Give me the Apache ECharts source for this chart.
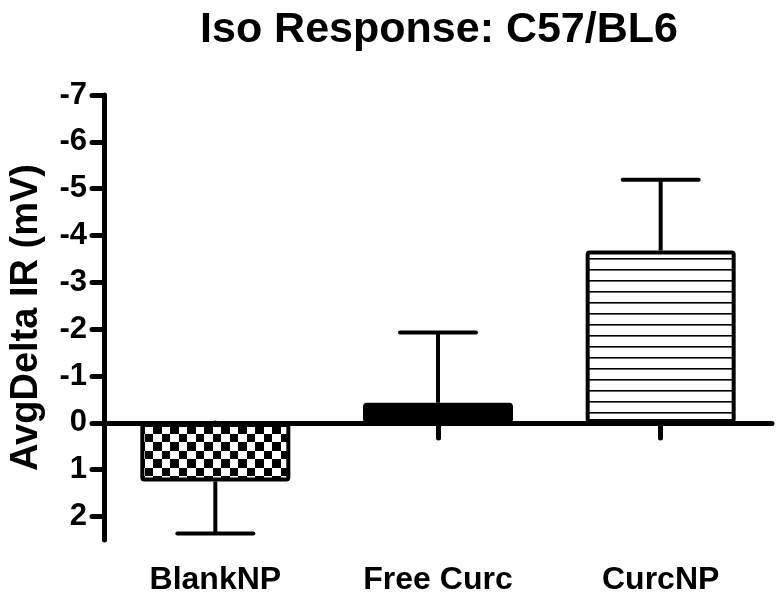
<!DOCTYPE html>
<html>
<head>
<meta charset="utf-8">
<script src="https://cdn.jsdelivr.net/npm/echarts@6/dist/echarts.min.js"></script>
<style>
  html, body { margin: 0; padding: 0; background: #fff; }
  #chart { width: 780px; height: 605px; }
</style>
</head>
<body>
<div id="chart"></div>
<script>
// groups, mean response and SEM (mV); y axis is drawn inverted
var groups = ['BlankNP', 'Free Curc', 'CurcNP'];
var meanIR = [1.25, -0.43, -3.68];
var semIR = [1.11, 1.5, 1.51];
var yTicks = [-7, -6, -5, -4, -3, -2, -1, 0, 1, 2];

var FONT = 'Liberation Sans';

function checkPattern()
{
    var c = document.createElement('canvas');
    c.width = 17; c.height = 17;
    var ctx = c.getContext('2d');
    ctx.fillStyle = '#fff';
    ctx.fillRect(0, 0, 17, 17);
    ctx.fillStyle = '#000';
    ctx.fillRect(0, 0, 9, 9);
    ctx.fillRect(9, 9, 8, 8);
    return {image: c, repeat: 'repeat'};
}

function stripePattern()
{
    var c = document.createElement('canvas');
    c.width = 11; c.height = 11;
    var ctx = c.getContext('2d');
    ctx.fillStyle = '#fff';
    ctx.fillRect(0, 0, 11, 11);
    ctx.fillStyle = '#000';
    ctx.fillRect(0, 5, 11, 1.6);
    return {image: c, repeat: 'repeat'};
}

var fills = [checkPattern(), '#000', stripePattern()];

var barData = [];
var errData = [];
for (var i = 0; i < groups.length; i++)
{
    barData.push({value: meanIR[i], itemStyle: {color: fills[i]}});
    var dir = meanIR[i] < 0 ? -1 : 1;
    errData.push([i, meanIR[i], meanIR[i] + dir * semIR[i]]);
}

var myChart = echarts.init(document.getElementById('chart'));

option = {
    animation: false,
    backgroundColor: '#fff',
    title: {
        text: 'Iso Response: C57/BL6',
        left: 434,
        top: 4,
        textAlign: 'center',
        textStyle: {fontFamily: FONT, fontSize: 43, fontWeight: 'bold', color: '#000'}
    },
    grid: {left: 103, right: 8, top: 95, bottom: 65},
    xAxis: [
        {
            type: 'category',
            data: groups,
            position: 'bottom',
            axisLine: {onZero: true, lineStyle: {color: '#000', width: 5}},
            axisTick: {show: true, alignWithLabel: true, length: 15,
                lineStyle: {color: '#000', width: 5, cap: 'round'}},
            axisLabel: {show: false},
            splitLine: {show: false}
        },
        {
            type: 'category',
            data: groups,
            position: 'bottom',
            axisLine: {show: false, onZero: false},
            axisTick: {show: false},
            axisLabel: {margin: 24, fontFamily: FONT, fontSize: 32, fontWeight: 'bold', color: '#000'},
            splitLine: {show: false}
        }
    ],
    yAxis: {
        type: 'value',
        inverse: true,
        min: -7,
        max: 2.5,
        interval: 1,
        name: 'AvgDelta IR (mV)',
        nameLocation: 'middle',
        nameGap: 58,
        nameTextStyle: {fontFamily: FONT, fontSize: 38, fontWeight: 'bold', color: '#000'},
        axisLine: {show: true, onZero: false, lineStyle: {color: '#000', width: 5, cap: 'round'}},
        axisTick: {show: true, length: 12, customValues: yTicks,
            lineStyle: {color: '#000', width: 5, cap: 'round'}},
        axisLabel: {margin: 17, customValues: yTicks, fontFamily: FONT, fontSize: 31,
            fontWeight: 'bold', color: '#000'},
        splitLine: {show: false}
    },
    series: [
        {
            name: 'AvgDelta IR',
            type: 'bar',
            barWidth: 150,
            data: barData,
            itemStyle: {borderColor: '#000', borderWidth: 4, borderRadius: 2}
        },
        {
            name: 'SEM',
            type: 'custom',
            z: 5,
            data: errData,
            renderItem: function (params, api)
            {
                var base = api.coord([api.value(0), api.value(1)]);
                var end = api.coord([api.value(0), api.value(2)]);
                var half = 38;
                return {
                    type: 'group',
                    children: [
                        {type: 'line', shape: {x1: base[0], y1: base[1], x2: end[0], y2: end[1]},
                            style: {stroke: '#000', lineWidth: 4}},
                        {type: 'line', shape: {x1: end[0] - half, y1: end[1], x2: end[0] + half, y2: end[1]},
                            style: {stroke: '#000', lineWidth: 4, lineCap: 'round'}}
                    ]
                };
            }
        }
    ]
};
myChart.setOption(option);
</script>
</body>
</html>
